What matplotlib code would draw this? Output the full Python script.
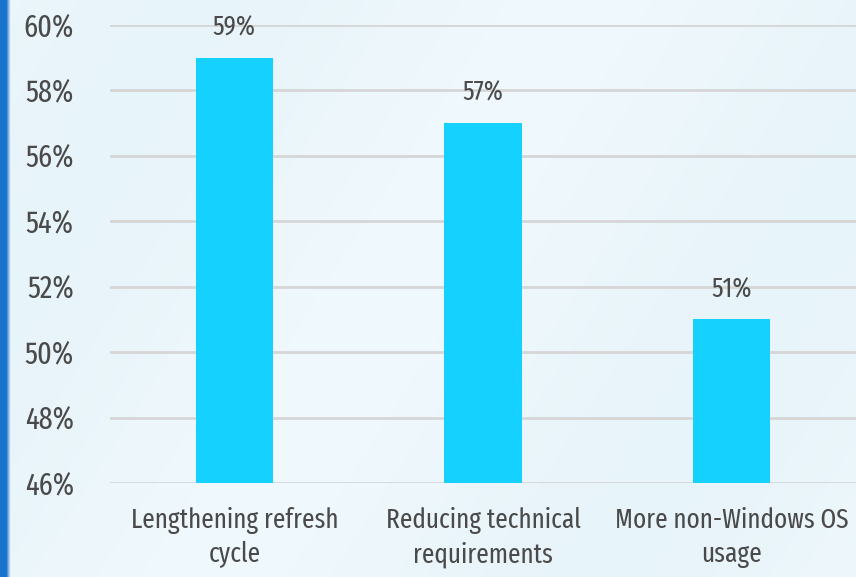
import numpy as np
import matplotlib.pyplot as plt
from matplotlib import font_manager

categories = ["Lengthening refresh\ncycle", "Reducing technical\nrequirements", "More non-Windows OS\nusage"]
values = [59, 57, 51]
yticks = [46, 48, 50, 52, 54, 56, 58, 60]

# condensed face, close to the Myriad Condensed of the original
installed = {f.name for f in font_manager.fontManager.ttflist}
candidates = ["Fira Sans Extra Condensed", "Barlow Condensed", "PT Sans Narrow", "Roboto Condensed",
              "Archivo Narrow", "Fira Sans Condensed", "Barlow Semi Condensed", "DejaVu Sans"]
fam = next(c for c in candidates if c in installed)
plt.rcParams['font.family'] = fam

text_color = "#4a4a4a"
bar_color = "#14d2fd"

fig = plt.figure(figsize=(8.56, 5.77), dpi=100)

# fit font size on the width of the first category line in the reference
probe = fig.text(0, 0, "Lengthening refresh", fontsize=20)
fig.canvas.draw()
wpx = probe.get_window_extent().width
probe.remove()
fs = 20 * 208 / wpx
tick_fs = fs * 1.12

# background: pale blue wash, dark blue strip on the left edge
bg = fig.add_axes([0, 0, 1, 1], zorder=-10)
h, w = 120, 200
yy, xx = np.mgrid[0:h, 0:w] / np.array([h, w])[:, None, None]
base = np.array([0.94, 0.975, 0.99])
tint = np.array([0.87, 0.935, 0.97])
mix = (0.5 + 0.5 * np.sin(xx * 7 + yy * 3)) * 0.45
img = base[None, None, :] * (1 - mix[..., None]) + tint[None, None, :] * mix[..., None]
strip = xx < 0.009
img[strip] = np.array([0.10, 0.45, 0.80])
bg.imshow(img, aspect='auto', extent=[0, 1, 0, 1], interpolation='bilinear')
bg.axis('off')

ax = fig.add_axes([110 / 856, 1 - 483 / 577, 746 / 856, 458 / 577])
ax.patch.set_alpha(0)
x = np.arange(len(categories))
ax.bar(x, values, width=0.31, color=bar_color, bottom=0, zorder=3)
ax.set_xlim(-0.5, 2.5)
ax.set_ylim(46, 60)
ax.set_yticks(yticks)
ax.set_yticklabels([f"{t}%" for t in yticks])
ax.yaxis.grid(True, color="#d6d6d6", linewidth=2, zorder=1)
ax.set_axisbelow(True)
for s in ax.spines.values():
    s.set_visible(False)
ax.tick_params(axis='both', length=0, colors=text_color)
ax.tick_params(axis='y', pad=26, labelsize=tick_fs)
ax.set_xticks(x)
ax.set_xticklabels(categories, linespacing=1.35)
ax.tick_params(axis='x', pad=17, labelsize=fs)

for xi, v in zip(x, values):
    ax.annotate(f"{v}%", (xi, v), xytext=(0, 12), textcoords="offset points",
                ha='center', va='bottom', fontsize=fs, color=text_color)

fig.savefig("out.png", dpi=100)
